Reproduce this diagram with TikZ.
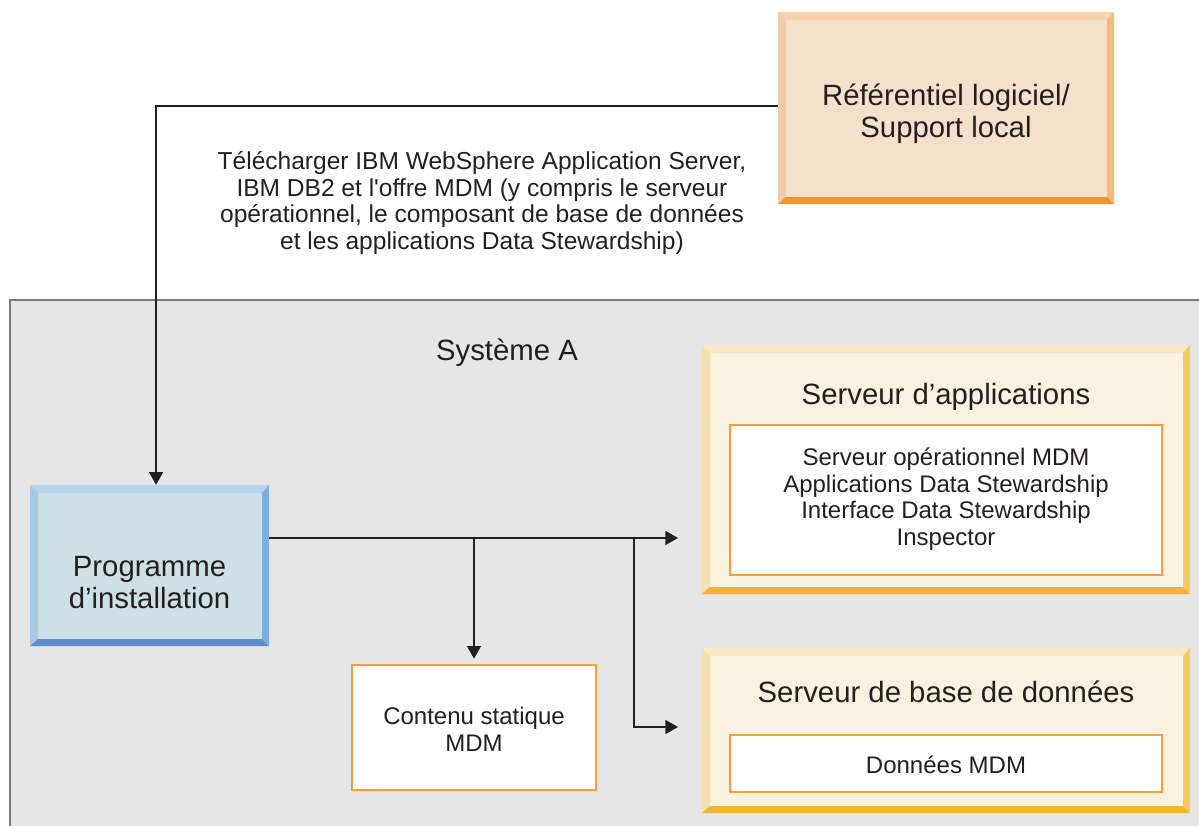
\documentclass[tikz,border=0pt]{standalone}
\usepackage{fontspec}
\setmainfont{Liberation Sans}
\usetikzlibrary{arrows.meta}
\definecolor{txt}{HTML}{231F20}
\definecolor{sysfill}{HTML}{E6E6E6}
\definecolor{sysline}{HTML}{7A7A7A}
\definecolor{refF}{HTML}{F5E0CC}\definecolor{refT}{HTML}{F6D4B0}\definecolor{refL}{HTML}{F3CCA3}\definecolor{refR}{HTML}{F9BA7C}\definecolor{refB}{HTML}{F39433}
\definecolor{prgF}{HTML}{CCE0E6}\definecolor{prgT}{HTML}{B7D5EA}\definecolor{prgL}{HTML}{A6CAE6}\definecolor{prgR}{HTML}{7EAEDB}\definecolor{prgB}{HTML}{5F8DCB}
\definecolor{srvF}{HTML}{FAF2E0}\definecolor{srvT}{HTML}{F8E9C4}\definecolor{srvL}{HTML}{F6E0AC}\definecolor{srvR}{HTML}{F6CA5E}\definecolor{srvB}{HTML}{F3B42E}
\definecolor{inner}{HTML}{F7A035}
% bevelled box: #1 x1, #2 y1, #3 x2, #4 y2, #5 colour prefix
\newcommand\bevbox[5]{%
  \fill[#5F] (#1,#2) rectangle (#3,#4);
  \fill[#5T] (#1,#2) -- (#3,#2) -- (#3-7,#2+8) -- (#1+8,#2+8) -- cycle;
  \fill[#5L] (#1,#2) -- (#1+8,#2+8) -- (#1+8,#4-7) -- (#1,#4) -- cycle;
  \fill[#5R] (#3,#2) -- (#3,#4) -- (#3-7,#4-7) -- (#3-7,#2+8) -- cycle;
  \fill[#5B] (#1,#4) -- (#3,#4) -- (#3-7,#4-7) -- (#1+8,#4-7) -- cycle;
}
\begin{document}
\begin{tikzpicture}[x=0.75pt,y=-0.75pt,
  big/.style={font=\fontsize{22}{24}\selectfont, text=txt, align=center},
  small/.style={font=\fontsize{18}{20}\selectfont, text=txt, align=center},
  innerbox/.style={draw=inner, line width=1.5pt, fill=white, inner sep=0pt},
  conn/.style={draw=txt, line width=1.1pt, -{Triangle[length=9.5pt,width=10.5pt]}},
  plain/.style={draw=txt, line width=1.1pt}]
\useasboundingbox (0,0) rectangle (1199,825);
\begin{scope}
\clip (0,0) rectangle (1199,825);
\draw[fill=sysfill, draw=sysline, line width=1.5pt] (10,300) rectangle (1220,850);
\end{scope}
\node[big, anchor=center] (sys) at (507,353) {Système A};

% Référentiel
\bevbox{778}{12}{1114}{204}{ref}
\node[minimum width=252pt, minimum height=144pt, inner sep=0pt] (ref) at (946,108) {};
\node[big] (reftxt) at (946,114) {Référentiel logiciel/\\Support local};

% Programme
\bevbox{30}{485}{269}{646}{prg}
\node[minimum width=179.25pt, minimum height=120.75pt, inner sep=0pt] (prog) at (149.5,565.5) {};
\node[big] (progtxt) at (149.5,583) {Programme\\d’installation};

% Serveur d'applications
\bevbox{702}{345}{1190}{594}{srv}
\node[big] (apptitle) at (946,397) {Serveur d’applications};
\draw[innerbox] (730,425) rectangle (1162,575);
\node[small, font=\fontsize{18}{19.9}\selectfont] (appin) at (946,499) {Serveur opérationnel MDM\\Applications Data Stewardship\\Interface Data Stewardship\\Inspector};
\node[minimum width=366pt, minimum height=186.75pt, inner sep=0pt] (app) at (946,469.5) {};

% Serveur de base de données
\bevbox{702}{648}{1190}{813}{srv}
\node[big] (dbtitle) at (946,692) {Serveur de base de données};
\draw[innerbox] (730,735) rectangle (1162,792);
\node[small] (dbin) at (946,765) {Données MDM};
\node[minimum width=366pt, minimum height=123.75pt, inner sep=0pt] (db) at (946,730.5) {};

% Contenu statique
\node[innerbox, minimum width=183pt, minimum height=93.75pt] (stat) at (474,727.5) {};
\node[small] (stattxt) at (474,729) {Contenu statique\\MDM};

% Label
\node[small, font=\fontsize{18.4}{20.2}\selectfont] (lbl) at (482,203) {Télécharger IBM WebSphere Application Server,\\IBM DB2 et l\textquotesingle offre MDM (y compris le serveur\\opérationnel, le composant de base de données\\et les applications Data Stewardship)};

% connectors
\coordinate (pout) at (269,538);
\coordinate (append) at (678,538);
\coordinate (split) at (634,538);
\coordinate (dbend) at (678,727);
\draw[conn] (ref.west |- 0,106) -| ([xshift=4.9pt]prog.north);
\draw[conn] (pout) -- (append);
\draw[conn, shorten >=4pt] (stat.north |- pout) -- (stat.north);
\draw[conn] (split) |- (dbend);
\end{tikzpicture}
\end{document}
